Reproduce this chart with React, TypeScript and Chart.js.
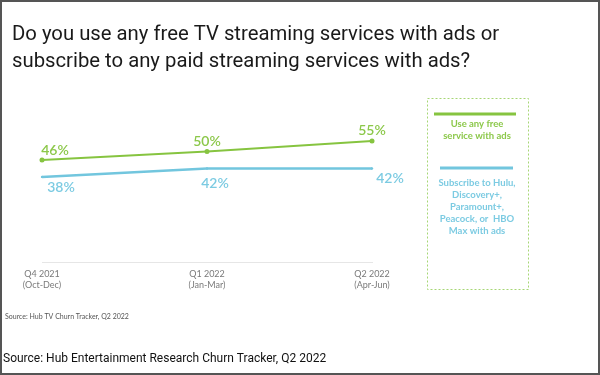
import React, { useEffect, useRef } from "react";
import { Chart, registerables } from "chart.js";

Chart.register(...registerables);

const categories = [
  ["Q4 2021", "(Oct-Dec)"],
  ["Q1 2022", "(Jan-Mar)"],
  ["Q2 2022", "(Apr-Jun)"],
];
const freeWithAds = [46, 50, 55];
const paidWithAds = [38, 42, 42];
const freeLegend = ["Use any free", "service with ads"];
const paidLegend = ["Subscribe to Hulu,", "Discovery+,", "Paramount+,", "Peacock, or  HBO", "Max with ads"];
const titleLines = [
  "Do you use any free TV streaming services with ads or",
  "subscribe to any paid streaming services with ads?",
];
const chartSource = "Source: Hub TV Churn Tracker, Q2 2022";
const pageSource = "Source: Hub Entertainment Research Churn Tracker, Q2 2022";

const GREEN = "#86c440";
const GREEN_LABEL = "#8cc84a";
const BLUE = "#72c6de";
const BLUE_LABEL = "#7ccbe2";
const CHART_FONT = "Lato";

// label offsets (style only)
const greenOffsets = [
  { dx: 13, dy: -10 },
  { dx: 0, dy: -10 },
  { dx: 0, dy: -11 },
];
const blueOffsets = [
  { dx: 19, dy: 11 },
  { dx: 8, dy: 15 },
  { dx: 18, dy: 10 },
];

const overlay = {
  id: "overlay",
  afterDraw(chart: any) {
    const ctx = chart.ctx as CanvasRenderingContext2D;
    ctx.save();
    // frame
    ctx.strokeStyle = "#555";
    ctx.lineWidth = 2;
    ctx.strokeRect(1, 1, 598, 373);

    // title
    ctx.fillStyle = "#1a1a1a";
    ctx.font = "20.3px Roboto";
    ctx.textAlign = "left";
    ctx.textBaseline = "alphabetic";
    ctx.fillText(titleLines[0], 12, 40);
    ctx.fillText(titleLines[1], 12, 67);

    // page source
    ctx.font = "12px Roboto";
    ctx.fillStyle = "#111";
    ctx.fillText(pageSource, 3, 362);

    // chart source
    ctx.font = "7px " + CHART_FONT;
    ctx.fillStyle = "#555";
    ctx.textBaseline = "middle";
    ctx.fillText(chartSource, 5, 317);

    // data labels
    ctx.font = "600 14px " + CHART_FONT;
    ctx.textAlign = "center";
    const m0 = chart.getDatasetMeta(0);
    const m1 = chart.getDatasetMeta(1);
    ctx.fillStyle = GREEN_LABEL;
    m0.data.forEach((p: any, i: number) => {
      ctx.fillText(freeWithAds[i] + "%", p.x + greenOffsets[i].dx, p.y + greenOffsets[i].dy);
    });
    ctx.fillStyle = BLUE_LABEL;
    m1.data.forEach((p: any, i: number) => {
      ctx.fillText(paidWithAds[i] + "%", p.x + blueOffsets[i].dx, p.y + blueOffsets[i].dy);
    });

    // legend box
    ctx.setLineDash([2, 2]);
    ctx.strokeStyle = "#a6d675";
    ctx.lineWidth = 1;
    ctx.strokeRect(427.5, 98.5, 101, 191);
    ctx.setLineDash([]);
    ctx.lineWidth = 3;
    ctx.strokeStyle = GREEN;
    ctx.beginPath();
    ctx.moveTo(434, 114);
    ctx.lineTo(516, 114);
    ctx.stroke();
    ctx.strokeStyle = BLUE;
    ctx.beginPath();
    ctx.moveTo(440, 168);
    ctx.lineTo(513, 168);
    ctx.stroke();
    ctx.font = "bold 9.5px " + CHART_FONT;
    ctx.fillStyle = GREEN_LABEL;
    freeLegend.forEach((t, i) => ctx.fillText(t, 477, 124 + i * 12));
    ctx.fillStyle = BLUE_LABEL;
    paidLegend.forEach((t, i) => ctx.fillText(t, 477, 183 + i * 12));
    ctx.restore();
  },
};

export default function App() {
  const ref = useRef<HTMLCanvasElement | null>(null);
  useEffect(() => {
    document.body.style.margin = "0";
    document.body.style.background = "#fff";
    if (!ref.current) return;
    const chart = new Chart(ref.current, {
      type: "line",
      data: {
        labels: categories,
        datasets: [
          {
            label: freeLegend.join(" "),
            data: freeWithAds,
            borderColor: GREEN,
            backgroundColor: GREEN,
            borderWidth: 2,
            pointRadius: 2.5,
            pointBorderWidth: 0,
            tension: 0,
          },
          {
            label: paidLegend.join(" "),
            data: paidWithAds,
            borderColor: BLUE,
            backgroundColor: BLUE,
            borderWidth: 2.5,
            pointRadius: 1.2,
            pointBorderWidth: 0,
            tension: 0,
          },
        ],
      },
      options: {
        animation: false,
        responsive: false,
        devicePixelRatio: 1,
        layout: { padding: { left: 42, right: 228, top: 46, bottom: 79 } },
        plugins: {
          legend: { display: false },
          title: { display: false },
          tooltip: { enabled: false },
        },
        scales: {
          x: {
            type: "category",
            offset: false,
            grid: { display: false, drawTicks: false },
            border: { display: true, color: "#e6e6e6", width: 1 },
            ticks: {
              color: "#7a7a7a",
              font: { family: CHART_FONT, size: 9, lineHeight: 1.2 },
              padding: 6,
              maxRotation: 0,
              autoSkip: false,
            },
          },
          y: { display: false, min: -2.5, max: 100 },
        },
      },
      plugins: [overlay],
    });
    return () => chart.destroy();
  }, []);
  return (
    <div style={{ width: 600, height: 375, position: "relative", background: "#fff" }}>
      <canvas ref={ref} width={600} height={375} style={{ display: "block" }} />
    </div>
  );
}
